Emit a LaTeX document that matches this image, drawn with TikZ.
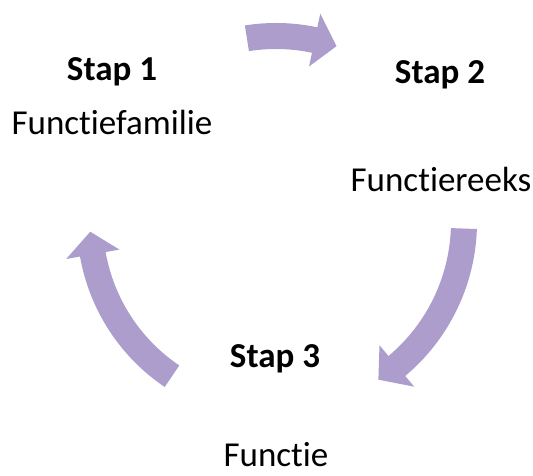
\documentclass[tikz,border=0pt]{standalone}
\usepackage{fontspec}
\setmainfont{Carlito}[Ligatures=NoCommon]
\definecolor{arrowcol}{RGB}{172,157,204}
\tikzset{
  arrowfill/.style={fill=arrowcol},
  lbl/.style={anchor=base, inner sep=0pt, font=\fontsize{35}{42}\selectfont},
  stapl/.style={lbl, font=\fontsize{35}{42}\selectfont\bfseries}
}
\newcommand\cycarrow[3]{% #1 tail angle, #2 tip angle, #3 radius
  \pgfmathsetmacro\hb{#2+7}%
  \pgfmathsetmacro\ri{#3-13}%
  \pgfmathsetmacro\ro{#3+13}%
  \pgfmathsetmacro\hi{#3-27}%
  \pgfmathsetmacro\ho{#3+27}%
  \fill[arrowfill] ([shift={(#1:\ri pt)}]C) arc[start angle=#1, end angle=\hb, radius=\ri pt]
    -- ([shift={(\hb:\hi pt)}]C) -- ([shift={(#2:#3pt)}]C) -- ([shift={(\hb:\ho pt)}]C)
    -- ([shift={(\hb:\ro pt)}]C) arc[start angle=\hb, end angle=#1, radius=\ro pt] -- cycle;
}
\begin{document}
\begin{tikzpicture}[x=1pt,y=1pt]
\fill[white] (0,0) rectangle (533,476);
\useasboundingbox (0,0) rectangle (533,476);
\coordinate (C) at (276,254);
\cycarrow{99}{71}{186}
\cycarrow{-2}{-57}{188}
\cycarrow{236}{183}{186}
\node[stapl] (s1) at (112,395) {Stap 1};
\node[lbl] (f1) at (112,341) {Functiefamilie};
\node[stapl] (s2) at (440,392) {Stap 2};
\node[lbl] (f2) at (441,284) {Functiereeks};
\node[stapl] (s3) at (275,108) {Stap 3};
\node[lbl] (f3) at (276,9) {Functie};
\end{tikzpicture}
\end{document}
